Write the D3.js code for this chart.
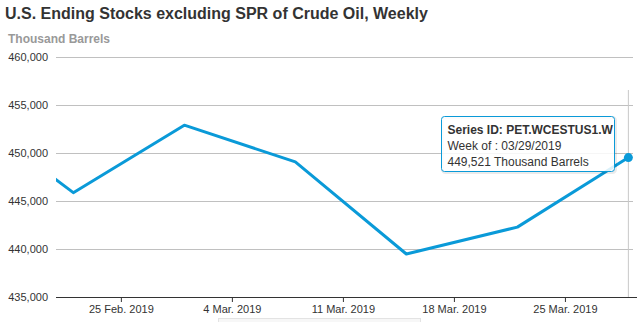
<!DOCTYPE html>
<html>
<head>
<meta charset="utf-8">
<script src="https://cdn.jsdelivr.net/npm/d3@7"></script>
<style>
  html, body { margin: 0; padding: 0; background: #fff; }
  svg { display: block; font-family: "Liberation Sans", Arial, sans-serif; }
</style>
</head>
<body>
<svg id="chart" width="637" height="322"></svg>
<script>
// ---- data ----
const weekDates = ["2019-02-15", "2019-02-22", "2019-03-01", "2019-03-08", "2019-03-15", "2019-03-22", "2019-03-29"];
const stocks = [454512, 445869, 452897, 449072, 439478, 442278, 449521];
const yTicks = [435000, 440000, 445000, 450000, 455000, 460000];
const xTickDates = ["2019-02-25", "2019-03-04", "2019-03-11", "2019-03-18", "2019-03-25"];
const xTickLabels = ["25 Feb. 2019", "4 Mar. 2019", "11 Mar. 2019", "18 Mar. 2019", "25 Mar. 2019"];
const xViewStart = "2019-02-20T21:50";
const xViewEnd = "2019-03-29T07:00";
const title = "U.S. Ending Stocks excluding SPR of Crude Oil, Weekly";
const unitLabel = "Thousand Barrels";
const seriesId = "PET.WCESTUS1.W";
const hoverIndex = 6;

const parseDay = d3.utcParse("%Y-%m-%d");
const parseTime = d3.utcParse("%Y-%m-%dT%H:%M");
const points = weekDates.map((d, i) => ({ date: parseDay(d), value: stocks[i] }));

// ---- layout ----
const svg = d3.select("#chart");
const pLeft = 56, pRight = 633, pTop = 57, pBottom = 297;

const x = d3.scaleUtc().domain([parseTime(xViewStart), parseTime(xViewEnd)]).range([pLeft, pRight]);
const y = d3.scaleLinear().domain([435000, 460000]).range([pBottom, pTop]);

// title
svg.append("text").attr("x", 5).attr("y", 19)
  .attr("font-size", 16).attr("font-weight", "bold").attr("fill", "#333")
  .text(title);
svg.append("text").attr("x", 8).attr("y", 43)
  .attr("font-size", 12).attr("font-weight", "bold").attr("fill", "#999")
  .text(unitLabel);

// grid
const yAxis = svg.append("g").attr("transform", `translate(${pLeft},0)`)
  .call(d3.axisLeft(y).tickValues(yTicks).tickSize(-(pRight - pLeft)).tickPadding(8)
    .tickFormat(d3.format(",")));
yAxis.select(".domain").remove();
yAxis.selectAll(".tick line").attr("stroke", "#c0c0c0").attr("stroke-width", 1);
yAxis.selectAll(".tick text").attr("font-size", 11).attr("fill", "#333")
  .attr("font-family", "Liberation Sans, Arial, sans-serif");

// x axis
const xAxis = svg.append("g").attr("transform", `translate(0,${pBottom})`)
  .call(d3.axisBottom(x).tickValues(xTickDates.map(parseDay)).tickSize(5).tickPadding(3)
    .tickSizeOuter(0)
    .tickFormat((d, i) => xTickLabels[i]));
xAxis.select(".domain").attr("stroke", "#333").attr("d", `M${pLeft},0.5H637`);
xAxis.selectAll(".tick line").attr("stroke", "#333");
xAxis.selectAll(".tick text").attr("font-size", 11).attr("fill", "#333")
  .attr("font-family", "Liberation Sans, Arial, sans-serif");

// crosshair
const hp = points[hoverIndex];
svg.append("line")
  .attr("x1", x(hp.date)).attr("x2", x(hp.date))
  .attr("y1", 90).attr("y2", pBottom)
  .attr("stroke", "#c8c8c8").attr("stroke-width", 1);

// line
svg.append("clipPath").attr("id", "clip").append("rect")
  .attr("x", pLeft).attr("y", pTop - 10).attr("width", pRight - pLeft + 6).attr("height", pBottom - pTop + 10);
svg.append("path")
  .datum(points)
  .attr("clip-path", "url(#clip)")
  .attr("fill", "none")
  .attr("stroke", "#0a9ad8")
  .attr("stroke-width", 3)
  .attr("stroke-linejoin", "round")
  .attr("d", d3.line().x(d => x(d.date)).y(d => y(d.value)));

svg.append("circle")
  .attr("cx", x(hp.date)).attr("cy", y(hp.value)).attr("r", 4.5)
  .attr("fill", "#0a9ad8");

// tooltip
const tt = svg.append("g").attr("transform", "translate(441.5,116.5)");
tt.append("rect").attr("x", 1).attr("y", 1).attr("width", 173).attr("height", 55).attr("rx", 3)
  .attr("fill", "none").attr("stroke", "rgba(0,0,0,0.08)").attr("stroke-width", 3);
tt.append("rect").attr("width", 173).attr("height", 55).attr("rx", 3)
  .attr("fill", "rgba(255,255,255,0.85)").attr("stroke", "#0a9ad8").attr("stroke-width", 1);
const fmtWeek = d3.utcFormat("%m/%d/%Y");
const lines = [
  { t: "Series ID: " + seriesId, b: true },
  { t: "Week of : " + fmtWeek(hp.date), b: false },
  { t: d3.format(",")(hp.value) + " " + unitLabel, b: false }
];
lines.forEach((l, i) => {
  tt.append("text").attr("x", 6).attr("y", 17.5 + i * 16)
    .attr("font-size", 12).attr("font-weight", l.b ? "bold" : "normal")
    .attr("fill", "#333").text(l.t);
});

// navigator stub at bottom
svg.append("rect").attr("x", 218.5).attr("y", 318.5).attr("width", 202).attr("height", 10)
  .attr("fill", "#f7f7f7").attr("stroke", "#e3e3e3");
</script>
</body>
</html>
